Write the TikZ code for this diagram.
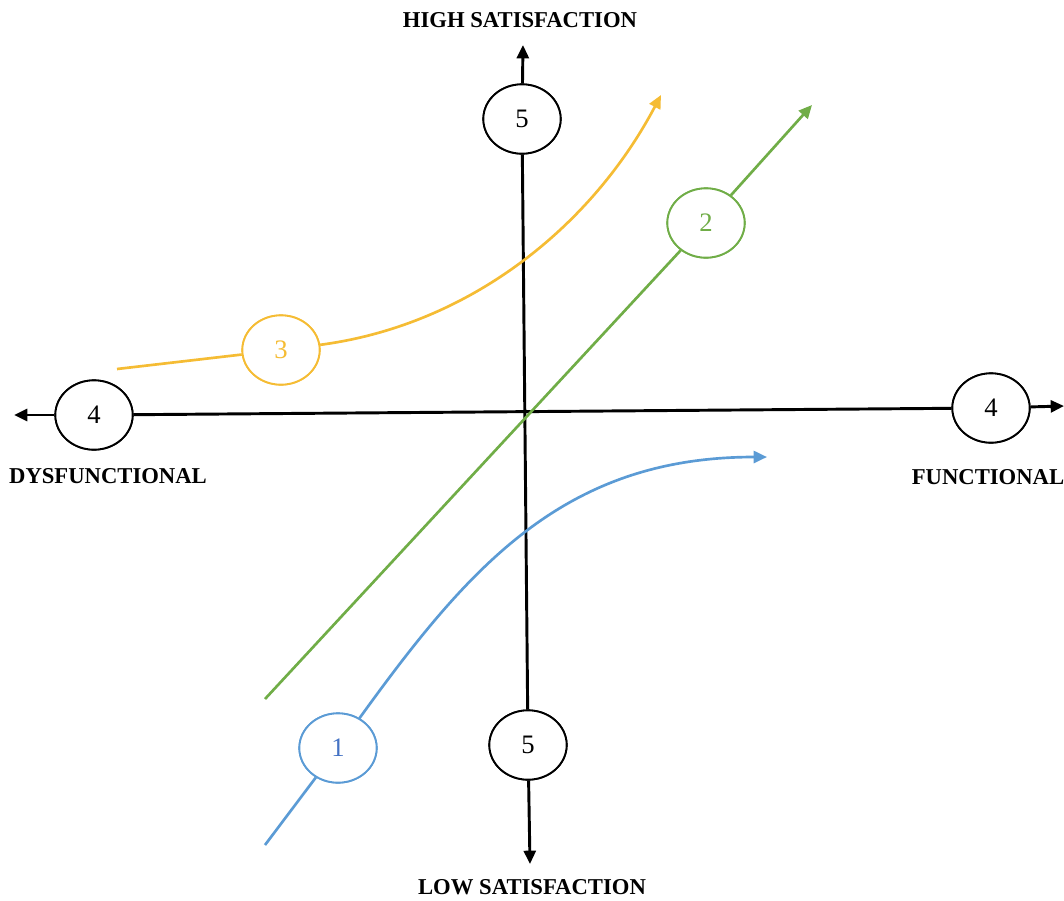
\documentclass[tikz,border=0pt]{standalone}
\usepackage{fontspec}
\setmainfont{Liberation Serif}
\usetikzlibrary{arrows.meta,shapes.geometric}
\definecolor{cblue}{HTML}{5B9BD5}
\definecolor{cbluetext}{HTML}{4472C4}
\definecolor{cgreen}{HTML}{70AD47}
\definecolor{cgold}{HTML}{F5BC34}
\tikzset{
  axisline/.style={line width=2.2pt, black},
  axisarrow/.style={axisline, -{Triangle[length=10pt,width=9pt]}},
  numcircle/.style={ellipse, draw, fill=white, line width=1.4pt, inner sep=0pt,
     minimum width=58pt, minimum height=52pt, font=\fontsize{20}{22}\selectfont},
  axislabel/.style={font=\bfseries\fontsize{17}{19}\selectfont},
  curve/.style={line width=2pt},
  curvearrow/.style={curve, -{Triangle[length=10pt,width=9pt]}}
}
\begin{document}
\begin{tikzpicture}[x=0.75pt,y=-0.75pt]
\useasboundingbox (0,0) rectangle (1064,900);
% coordinates
\coordinate (ttip) at (523,45);
\coordinate (btip) at (530,864);
\coordinate (ltip) at (14,415);
\coordinate (rtip) at (1064,406);
\coordinate (g0) at (265,699);
\coordinate (gtip) at (812,105);
\coordinate (y0) at (117,369);
\coordinate (ytip) at (661,95);
\coordinate (b0) at (265,845);
\coordinate (bltip) at (767,457);
% nodes
\node[numcircle] (T5) at (522,119) {5};
\node[numcircle] (B5) at (528,745) {5};
\node[numcircle] (L4) at (94,415) {4};
\node[numcircle] (R4) at (991,408) {4};
\node[numcircle, draw=cgreen, text=cgreen] (G2) at (706,223) {2};
\node[numcircle, draw=cgold, text=cgold] (Y3) at (281,350) {3};
\node[numcircle, draw=cblue, text=cbluetext] (C1) at (338,748) {1};
% connectors
\draw[axisline] (T5) -- (B5);
\draw[axisarrow] (T5) -- (ttip);
\draw[axisarrow] (B5) -- (btip);
\draw[axisline] (L4) -- (R4);
\draw[axisarrow] (L4) -- (ltip);
\draw[axisarrow] (R4) -- (rtip);
\draw[curve, cgreen] (g0) -- (G2);
\draw[curvearrow, cgreen] (G2) -- (gtip);
\draw[curve, cgold] (y0) -- (Y3);
\draw[curvearrow, cgold] (Y3) .. controls (470,325) and (592,226) .. (ytip);
\draw[curve, cblue] (b0) -- (C1);
\draw[curvearrow, cblue] (C1) .. controls (470,565) and (565,457) .. (bltip);
% redraw circles over the lines
\node[numcircle] at (T5) {5};
\node[numcircle] at (B5) {5};
\node[numcircle] at (L4) {4};
\node[numcircle] at (R4) {4};
\node[numcircle, draw=cgreen, text=cgreen] at (G2) {2};
\node[numcircle, draw=cgold, text=cgold] at (Y3) {3};
\node[numcircle, draw=cblue, text=cbluetext] at (C1) {1};
% labels
\node[axislabel] (hs) at (520,20) {HIGH SATISFACTION};
\node[axislabel] (ls) at (532,887) {LOW SATISFACTION};
\node[axislabel] (dys) at (108,476) {DYSFUNCTIONAL};
\node[axislabel] (fun) at (988,477) {FUNCTIONAL};
\end{tikzpicture}
\end{document}
